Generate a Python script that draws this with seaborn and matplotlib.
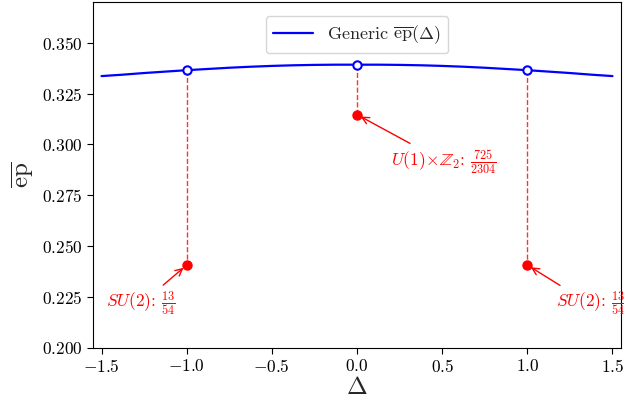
import numpy as np
import pandas as pd
import matplotlib
matplotlib.use("Agg")
import matplotlib.pyplot as plt
import seaborn as sns

# Generic curve
delta = [-1.5, -1.375, -1.25, -1.125, -1.0, -0.875, -0.75, -0.625, -0.5, -0.375, -0.25, -0.125, 0.0,
         0.125, 0.25, 0.375, 0.5, 0.625, 0.75, 0.875, 1.0, 1.125, 1.25, 1.375, 1.5]
ep = [0.3336, 0.3343, 0.3351, 0.3358, 0.3365, 0.3371, 0.3377, 0.3382, 0.3386, 0.3389, 0.3391, 0.3392, 0.3392,
      0.3392, 0.3391, 0.3389, 0.3386, 0.3382, 0.3377, 0.3371, 0.3365, 0.3358, 0.3351, 0.3343, 0.3336]

# special points
special_delta = [-1.0, 0.0, 1.0]
special_generic = [0.3365, 0.3392, 0.3365]
special_values = [13 / 54, 725 / 2304, 13 / 54]
special_labels = [r"$SU(2)$: $\frac{13}{54}$",
                  r"$U(1)\!\times\!\mathbb{Z}_2$: $\frac{725}{2304}$",
                  r"$SU(2)$: $\frac{13}{54}$"]
label_pos = [(-1.27, 0.2215), (0.51, 0.2915), (1.37, 0.2215)]

xticks = [-1.5, -1.0, -0.5, 0.0, 0.5, 1.0, 1.5]
yticks = [0.200, 0.225, 0.250, 0.275, 0.300, 0.325, 0.350]

sns.set_style("ticks")
plt.rcParams.update({
    "font.family": "serif",
    "font.serif": ["cmr10", "DejaVu Serif"],
    "mathtext.fontset": "cm",
    "axes.formatter.use_mathtext": True,
    "xtick.direction": "out",
    "ytick.direction": "out",
    "axes.edgecolor": "black",
    "axes.linewidth": 0.8,
    "xtick.color": "black",
    "ytick.color": "black",
})

fig = plt.figure(figsize=(6.24, 4.03), dpi=100)
ax = fig.add_axes([93 / 624, 55 / 403, 528 / 624, 346 / 403])

df = pd.DataFrame({"delta": delta, "ep": ep})
sns.lineplot(data=df, x="delta", y="ep", ax=ax, color="blue", linewidth=1.6,
             label=r"Generic $\overline{\rm ep}(\Delta)$")

for d, g, v in zip(special_delta, special_generic, special_values):
    ax.plot([d, d], [g, v], color="red", linestyle="--", linewidth=1.0, alpha=0.8, zorder=2)

ax.plot(special_delta, special_generic, linestyle="none", marker="o", markersize=6,
        markerfacecolor="white", markeredgecolor="blue", markeredgewidth=1.5, zorder=4)
ax.plot(special_delta, special_values, linestyle="none", marker="o", markersize=6.5,
        color="red", zorder=4)

for d, v, lab, pos in zip(special_delta, special_values, special_labels, label_pos):
    ax.annotate(lab, xy=(d, v), xytext=pos, color="red", fontsize=12.5,
                ha="center", va="center", annotation_clip=False,
                arrowprops=dict(arrowstyle="->", color="red", lw=1.0, shrinkB=3))

ax.set_xlim(-1.55, 1.55)
ax.set_ylim(0.2, 0.37)
ax.set_xticks(xticks)
ax.set_yticks(yticks)
ax.yaxis.set_major_formatter(matplotlib.ticker.FuncFormatter(lambda v, p: f"${v:.3f}$"))
ax.xaxis.set_major_formatter(matplotlib.ticker.FuncFormatter(lambda v, p: f"${v:.1f}$"))
ax.tick_params(labelsize=12.5, length=4, width=0.8)
ax.set_xlabel(r"$\Delta$", fontsize=18, labelpad=1)
ax.set_ylabel(r"$\overline{\rm ep}$", fontsize=18, labelpad=4)

leg = ax.legend(loc="upper center", fontsize=13, frameon=True, fancybox=True,
                bbox_to_anchor=(0.5, 0.985), handlelength=2.2)
leg.get_frame().set_edgecolor("#cccccc")

fig.savefig("out.png", dpi=100)
